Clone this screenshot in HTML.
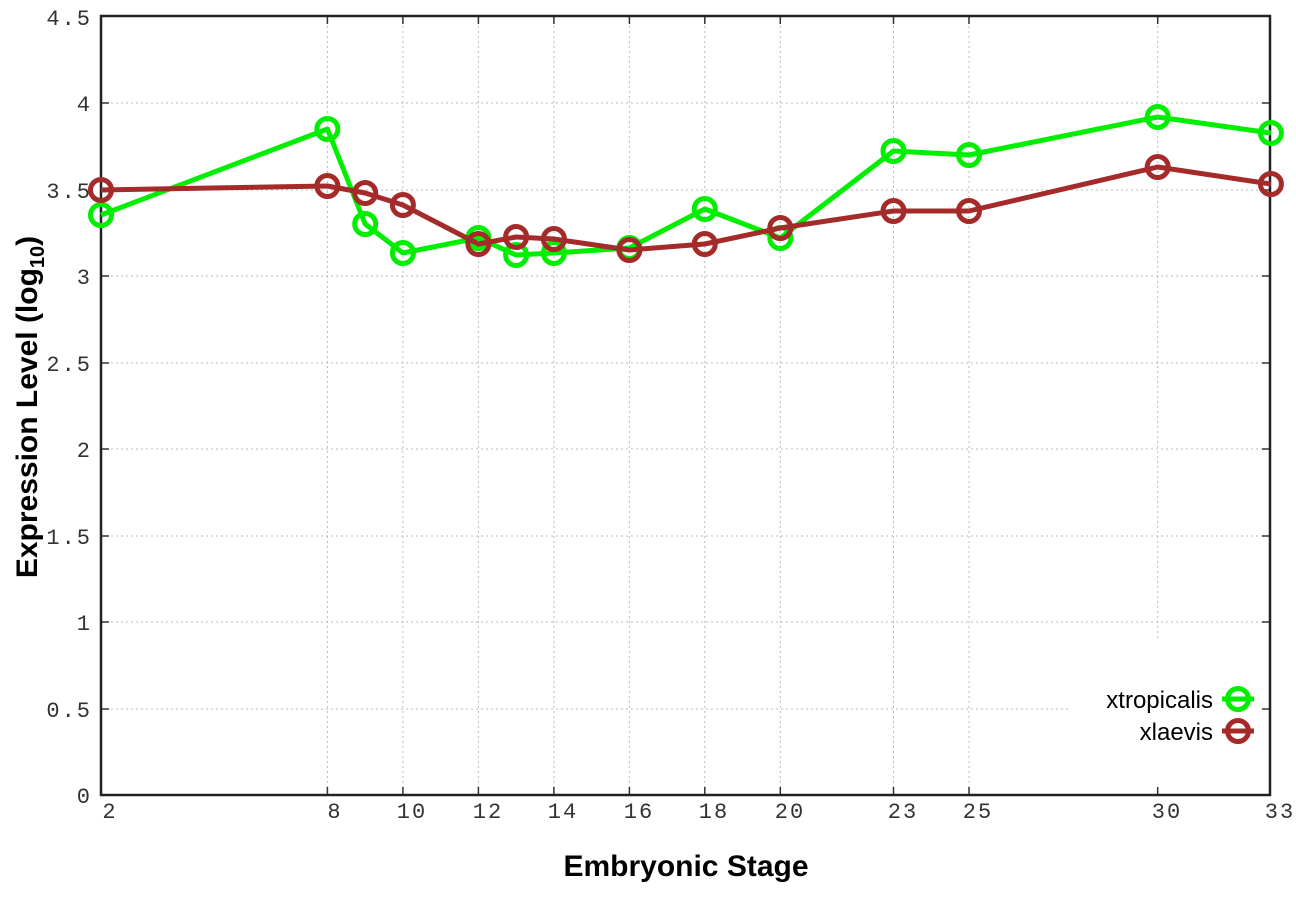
<!DOCTYPE html>
<html><head><meta charset="utf-8"><style>
html,body{margin:0;padding:0;background:#fff;}
svg{display:block;}
.t{font-family:"Liberation Mono",monospace;font-size:22px;fill:#333;letter-spacing:2px;}
.b{font-family:"Liberation Sans",sans-serif;font-weight:bold;fill:#000;}
.g{stroke:#bbb;stroke-width:1;stroke-dasharray:2,3;}
</style></head><body>
<svg width="1296" height="907" viewBox="0 0 1296 907">
<rect width="1296" height="907" fill="#fff"/>
<g class="g">
<line x1="101" y1="103" x2="1270" y2="103"/>
<line x1="101" y1="190" x2="1270" y2="190"/>
<line x1="101" y1="276" x2="1270" y2="276"/>
<line x1="101" y1="363" x2="1270" y2="363"/>
<line x1="101" y1="449" x2="1270" y2="449"/>
<line x1="101" y1="536" x2="1270" y2="536"/>
<line x1="101" y1="622" x2="1270" y2="622"/>
<line x1="101" y1="709" x2="1070" y2="709"/>
<line x1="327.4" y1="16" x2="327.4" y2="795"/>
<line x1="402.9" y1="16" x2="402.9" y2="795"/>
<line x1="478.4" y1="16" x2="478.4" y2="795"/>
<line x1="553.9" y1="16" x2="553.9" y2="795"/>
<line x1="629.4" y1="16" x2="629.4" y2="795"/>
<line x1="704.8" y1="16" x2="704.8" y2="795"/>
<line x1="780.3" y1="16" x2="780.3" y2="795"/>
<line x1="893.5" y1="16" x2="893.5" y2="795"/>
<line x1="969" y1="16" x2="969" y2="795"/>
<line x1="1157.7" y1="16" x2="1157.7" y2="640"/>
</g>
<g stroke="#333" stroke-width="1.5">
<line x1="101" y1="103" x2="109" y2="103"/><line x1="1262" y1="103" x2="1270" y2="103"/>
<line x1="101" y1="190" x2="109" y2="190"/><line x1="1262" y1="190" x2="1270" y2="190"/>
<line x1="101" y1="276" x2="109" y2="276"/><line x1="1262" y1="276" x2="1270" y2="276"/>
<line x1="101" y1="363" x2="109" y2="363"/><line x1="1262" y1="363" x2="1270" y2="363"/>
<line x1="101" y1="449" x2="109" y2="449"/><line x1="1262" y1="449" x2="1270" y2="449"/>
<line x1="101" y1="536" x2="109" y2="536"/><line x1="1262" y1="536" x2="1270" y2="536"/>
<line x1="101" y1="622" x2="109" y2="622"/><line x1="1262" y1="622" x2="1270" y2="622"/>
<line x1="101" y1="709" x2="109" y2="709"/><line x1="1262" y1="709" x2="1270" y2="709"/>
<line x1="327.4" y1="795" x2="327.4" y2="787"/><line x1="327.4" y1="16" x2="327.4" y2="24"/>
<line x1="402.9" y1="795" x2="402.9" y2="787"/><line x1="402.9" y1="16" x2="402.9" y2="24"/>
<line x1="478.4" y1="795" x2="478.4" y2="787"/><line x1="478.4" y1="16" x2="478.4" y2="24"/>
<line x1="553.9" y1="795" x2="553.9" y2="787"/><line x1="553.9" y1="16" x2="553.9" y2="24"/>
<line x1="629.4" y1="795" x2="629.4" y2="787"/><line x1="629.4" y1="16" x2="629.4" y2="24"/>
<line x1="704.8" y1="795" x2="704.8" y2="787"/><line x1="704.8" y1="16" x2="704.8" y2="24"/>
<line x1="780.3" y1="795" x2="780.3" y2="787"/><line x1="780.3" y1="16" x2="780.3" y2="24"/>
<line x1="893.5" y1="795" x2="893.5" y2="787"/><line x1="893.5" y1="16" x2="893.5" y2="24"/>
<line x1="969" y1="795" x2="969" y2="787"/><line x1="969" y1="16" x2="969" y2="24"/>
<line x1="1157.7" y1="795" x2="1157.7" y2="787"/><line x1="1157.7" y1="16" x2="1157.7" y2="24"/>
</g>
<rect x="101" y="16" width="1169" height="779" fill="none" stroke="#222" stroke-width="2.5"/>
<g class="t" text-anchor="end">
<text x="92" y="25">4.5</text>
<text x="92" y="111">4</text>
<text x="92" y="198">3.5</text>
<text x="92" y="284">3</text>
<text x="92" y="371">2.5</text>
<text x="92" y="457">2</text>
<text x="92" y="544">1.5</text>
<text x="92" y="630">1</text>
<text x="92" y="717">0.5</text>
<text x="92" y="803">0</text>
</g>
<g class="t" text-anchor="middle">
<text x="110" y="818">2</text>
<text x="335" y="818">8</text>
<text x="412" y="818">10</text>
<text x="488" y="818">12</text>
<text x="563" y="818">14</text>
<text x="639" y="818">16</text>
<text x="714" y="818">18</text>
<text x="790" y="818">20</text>
<text x="903" y="818">23</text>
<text x="978" y="818">25</text>
<text x="1167" y="818">30</text>
<text x="1280" y="818">33</text>
</g>
<text class="b" x="686" y="876" font-size="30" text-anchor="middle">Embryonic Stage</text>
<text class="b" font-size="30" text-anchor="middle" transform="translate(37,407) rotate(-90)">Expression Level (log<tspan font-size="20" dy="7">10</tspan><tspan dy="-7">)</tspan></text>
<g fill="none" stroke="#00ee00" stroke-width="5" stroke-linejoin="round">
<polyline points="101,215 327.4,129 365.2,224 402.9,253 478.4,238 516.1,255 553.9,253 629.4,248 704.8,209 780.3,238 893.5,151 969,155 1157.7,117 1270.9,133"/>
</g>
<g fill="none" stroke="#00ee00" stroke-width="5">
<circle cx="101" cy="215" r="10.5"/><circle cx="327.4" cy="129" r="10.5"/><circle cx="365.2" cy="224" r="10.5"/><circle cx="402.9" cy="253" r="10.5"/><circle cx="478.4" cy="238" r="10.5"/><circle cx="516.1" cy="255" r="10.5"/><circle cx="553.9" cy="253" r="10.5"/><circle cx="629.4" cy="248" r="10.5"/><circle cx="704.8" cy="209" r="10.5"/><circle cx="780.3" cy="238" r="10.5"/><circle cx="893.5" cy="151" r="10.5"/><circle cx="969" cy="155" r="10.5"/><circle cx="1157.7" cy="117" r="10.5"/><circle cx="1270.9" cy="133" r="10.5"/>
</g>
<g fill="none" stroke="#a52a2a" stroke-width="5" stroke-linejoin="round">
<polyline points="101,190 327.4,186 365.2,193 402.9,205 478.4,244 516.1,237 553.9,239 629.4,250 704.8,244 780.3,228 893.5,211 969,211 1157.7,167 1270.9,184"/>
</g>
<g fill="none" stroke="#a52a2a" stroke-width="5">
<circle cx="101" cy="190" r="10.5"/><circle cx="327.4" cy="186" r="10.5"/><circle cx="365.2" cy="193" r="10.5"/><circle cx="402.9" cy="205" r="10.5"/><circle cx="478.4" cy="244" r="10.5"/><circle cx="516.1" cy="237" r="10.5"/><circle cx="553.9" cy="239" r="10.5"/><circle cx="629.4" cy="250" r="10.5"/><circle cx="704.8" cy="244" r="10.5"/><circle cx="780.3" cy="228" r="10.5"/><circle cx="893.5" cy="211" r="10.5"/><circle cx="969" cy="211" r="10.5"/><circle cx="1157.7" cy="167" r="10.5"/><circle cx="1270.9" cy="184" r="10.5"/>
</g>
<g font-family="Liberation Sans, sans-serif" font-size="24" fill="#000" text-anchor="end">
<text x="1213" y="708">xtropicalis</text>
<text x="1213" y="740">xlaevis</text>
</g>
<line x1="1222" y1="699" x2="1254" y2="699" stroke="#00ee00" stroke-width="5"/>
<circle cx="1238" cy="699" r="10.5" fill="none" stroke="#00ee00" stroke-width="5"/>
<line x1="1222" y1="731" x2="1254" y2="731" stroke="#a52a2a" stroke-width="5"/>
<circle cx="1238" cy="731" r="10.5" fill="none" stroke="#a52a2a" stroke-width="5"/>
</svg>
</body></html>
